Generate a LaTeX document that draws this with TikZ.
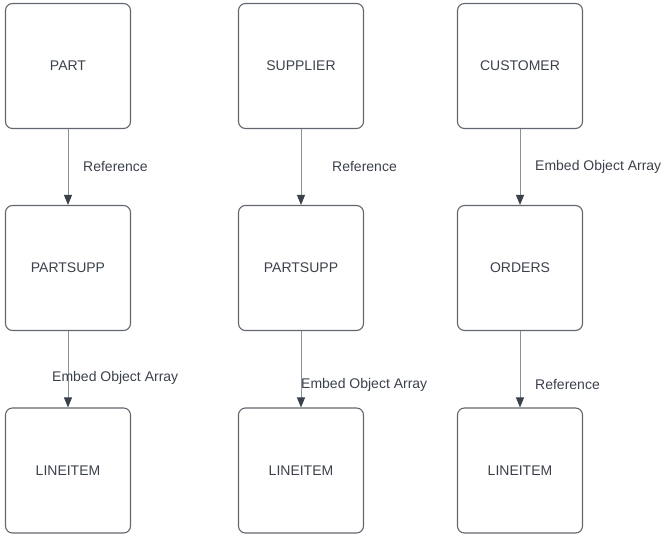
\documentclass[tikz,border=0pt]{standalone}
\usepackage{fontspec}
\setmainfont{Liberation Sans}
\usetikzlibrary{arrows.meta}
\definecolor{boxline}{HTML}{62676F}
\definecolor{ink}{HTML}{3B414B}
\definecolor{wire}{HTML}{8C9099}
\tikzset{
  entity/.style={draw=boxline, line width=1.1pt, rounded corners=7pt,
    minimum width=125pt, minimum height=125pt, inner sep=0pt,
    text=ink, font=\fontsize{14pt}{16pt}\selectfont},
  rel/.style={draw=wire, line width=1pt,
    -{Triangle[length=10pt,width=8pt,fill=ink,color=ink]}},
  tag/.style={anchor=west, inner sep=0pt, text=ink,
    font=\fontsize{14pt}{16pt}\selectfont}
}
\begin{document}
\begin{tikzpicture}[x=1pt,y=-1pt]
\useasboundingbox (0,0) rectangle (662,535);
% entities, three columns
\node[entity] (part)  at (68,66)  {PART};
\node[entity] (ps1)   at (68,268) {PARTSUPP};
\node[entity] (li1)   at (68,470.5) {LINEITEM};
\node[entity] (supp)  at (301,66)  {SUPPLIER};
\node[entity] (ps2)   at (301,268) {PARTSUPP};
\node[entity] (li2)   at (301,470.5) {LINEITEM};
\node[entity] (cust)  at (520,66)  {CUSTOMER};
\node[entity] (ord)   at (520,268) {ORDERS};
\node[entity] (li3)   at (520,470.5) {LINEITEM};
% relationships
\draw[rel] (part) -- (ps1);
\draw[rel] (ps1) -- (li1);
\draw[rel] (supp) -- (ps2);
\draw[rel] (ps2) -- (li2);
\draw[rel] (cust) -- (ord);
\draw[rel] (ord) -- (li3);
% relationship labels
\node[tag] (t1) at (83,166.5) {Reference};
\node[tag] (t2) at (52,377.5) {Embed Object Array};
\node[tag] (t3) at (332,166.5) {Reference};
\node[tag] (t4) at (301,384.5) {Embed Object Array};
\node[tag] (t5) at (535,166.5) {Embed Object Array};
\node[tag] (t6) at (535,384.5) {Reference};
\end{tikzpicture}
\end{document}
